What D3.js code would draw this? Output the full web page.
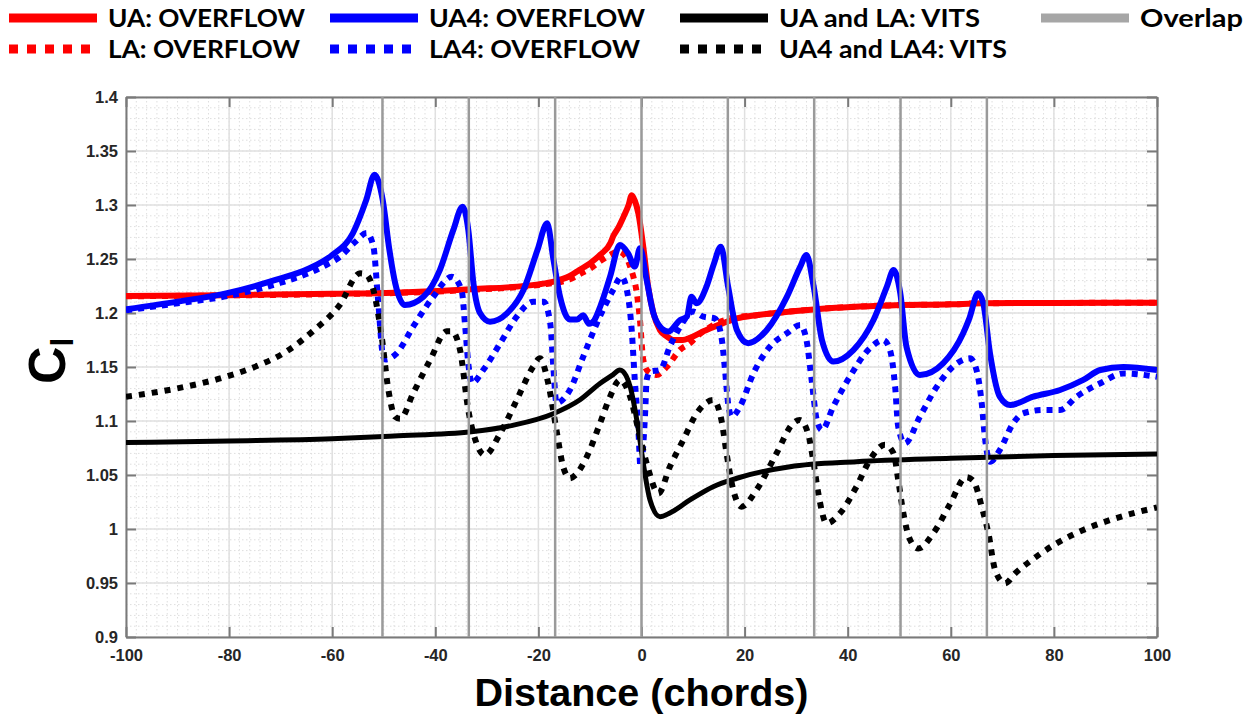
<!DOCTYPE html>
<html><head><meta charset="utf-8">
<script src="https://cdn.jsdelivr.net/npm/d3@7"></script>
<style>body{margin:0;background:#fff}svg{display:block}</style>
</head><body><svg id="c" width="1253" height="717"></svg>
<script>
// ---- data ----
const xTicks = [-100,-80,-60,-40,-20,0,20,40,60,80,100];
const xTickLabels = ["-100","-80","-60","-40","-20","0","20","40","60","80","100"];
const yTicks = [0.9,0.95,1,1.05,1.1,1.15,1.2,1.25,1.3,1.35,1.4];
const yTickLabels = ["0.9","0.95","1","1.05","1.1","1.15","1.2","1.25","1.3","1.35","1.4"];
const overlapX = [-50.25,-33.5,-16.75,0,16.75,33.5,50.25,67];

const uaX = [-100,-80,-60,-48,-33,-20,-17,-14,-12,-10,-8,-6,-5.5,-4.5,-3.5,-2.5,-1.9,-1.3,-0.6,0.35,1.3,2.3,3.6,5,6.2,8,9.4,12,14,18.5,22.3,28,35,48,60,66,80,100];
const uaY = [1.2157,1.2165,1.2178,1.2188,1.222,1.2265,1.229,1.234,1.240,1.246,1.254,1.265,1.271,1.279,1.289,1.300,1.309,1.304,1.292,1.261,1.224,1.200,1.184,1.178,1.175,1.175,1.177,1.183,1.187,1.195,1.198,1.201,1.204,1.207,1.208,1.209,1.2093,1.2095];

const laX = [-100,-80,-60,-48,-33,-20,-14,-12,-10,-8,-6,-4.5,-3,-2,-1.6,-0.9,-0.3,0.35,1.3,2.9,4.9,7.5,9.4,10.7,13.3,17.2,22.3,28,35,48,60,66,80,100];
const laY = [1.2155,1.2163,1.2175,1.2185,1.2215,1.226,1.231,1.236,1.241,1.248,1.254,1.257,1.252,1.240,1.234,1.218,1.1935,1.1565,1.1457,1.1426,1.150,1.166,1.172,1.178,1.187,1.195,1.198,1.201,1.204,1.207,1.208,1.209,1.2093,1.2095];

const ua4X = [-100,-90,-80.6,-71,-64.4,-60,-56,-53.4,-51.8,-50.2,-48.9,-47.8,-45.9,-42.3,-39.1,-36.5,-34.7,-33.6,-32.6,-31.3,-29.4,-26.1,-22.9,-20.2,-18.3,-17.1,-15.8,-13.9,-12.5,-11.3,-10.2,-9.2,-8,-6.1,-4.2,-2.6,-1.3,-0.3,1.0,2.3,3.6,5.2,7.5,8.8,9.7,10.7,12.6,14,15.4,16.8,18.5,20.7,24.3,28.2,30.8,32.0,33.4,35,37.2,41.1,45,47.6,48.9,50.2,51.4,54,58.5,62.4,63.6,65.3,66.3,67.6,69.5,71.5,76,81.2,85.7,89,93.5,100];
const ua4Y = [1.2034,1.2105,1.2182,1.2306,1.2414,1.2537,1.2738,1.3046,1.328,1.3046,1.2583,1.228,1.2074,1.215,1.24,1.277,1.2984,1.277,1.2275,1.1997,1.192,1.1997,1.2213,1.258,1.283,1.250,1.215,1.194,1.194,1.198,1.190,1.193,1.206,1.2336,1.263,1.2553,1.243,1.26,1.2306,1.200,1.1873,1.1828,1.1935,1.1966,1.215,1.209,1.2244,1.245,1.2614,1.2244,1.1843,1.172,1.1843,1.215,1.2429,1.2537,1.2244,1.175,1.155,1.1657,1.1935,1.2244,1.2398,1.2182,1.1688,1.1426,1.1534,1.1812,1.195,1.2182,1.209,1.1627,1.1225,1.1148,1.1225,1.1287,1.138,1.1472,1.150,1.1472];

const la4X = [-100,-90,-80,-70,-64,-61.2,-58.5,-55.5,-53.3,-52,-51.1,-50.1,-49.6,-47.5,-44.3,-40.4,-36.8,-34.9,-34.2,-33.6,-32.9,-30.7,-27.4,-24.2,-21,-19,-17.7,-17.1,-16.5,-13.9,-11.3,-8.7,-5.5,-3.9,-2.6,-1.9,-1.3,-0.6,-0.2,0.7,1.0,1.65,3.6,5.5,7.5,10,12,14.2,15.5,16.2,16.8,17.5,19.1,21.7,24.9,28.2,30.8,32,33,34,35,37.2,40.4,44.3,46.9,48.2,49.2,49.8,51.1,54,57.3,61.2,63.7,65,66,66.6,67.6,69.5,72.1,74,77.9,81.2,84.4,89,93.5,100];
const la4Y = [1.2025,1.209,1.216,1.228,1.238,1.2444,1.252,1.266,1.274,1.2614,1.212,1.1596,1.157,1.1627,1.1873,1.215,1.2336,1.2213,1.1873,1.1534,1.135,1.1472,1.172,1.1966,1.2105,1.2105,1.1904,1.150,1.1167,1.1287,1.1596,1.19,1.2213,1.2336,1.215,1.1843,1.138,1.0917,1.0577,1.107,1.138,1.1457,1.1472,1.169,1.1873,1.2013,1.1966,1.195,1.178,1.1472,1.1164,1.104,1.1133,1.144,1.1688,1.1812,1.1889,1.175,1.138,1.101,1.0917,1.1133,1.141,1.1673,1.175,1.1657,1.1318,1.0947,1.0793,1.104,1.1318,1.1534,1.158,1.147,1.1164,1.0855,1.0623,1.0731,1.0978,1.107,1.1102,1.1102,1.1225,1.135,1.144,1.141];

const vitsX = [-100,-80,-60,-48,-33,-25,-17,-12,-8,-5.5,-4.2,-3,-2.2,-0.6,0.35,1.65,3.6,5.5,9.4,13.9,18.5,28.8,41.7,60,80,100];
const vitsY = [1.080,1.0815,1.0835,1.0861,1.090,1.096,1.107,1.1194,1.135,1.143,1.1472,1.142,1.1318,1.0917,1.0608,1.0269,1.0114,1.0148,1.0269,1.0392,1.047,1.0577,1.0623,1.0654,1.068,1.0694];

const vits4X = [-100,-90.3,-80.6,-74.1,-69,-63.8,-58.6,-54.6,-53.5,-52,-50.4,-49.1,-47.8,-46.8,-44.3,-41,-37.8,-36.8,-35.2,-33.6,-32,-30.4,-27.4,-24.2,-21,-19.7,-18.1,-16.5,-15.2,-13.9,-12.8,-10.6,-8.05,-6.1,-4.2,-2.2,-0.6,1.0,3.3,5.5,8.1,10.7,13.9,15.5,16.5,17.8,19.4,22.3,26.2,29.4,30.7,32.3,33.3,34.3,35.9,38.5,41.7,44.3,47.2,48.9,49.8,50.8,52.1,53.7,56.6,59.8,63,64.3,66.2,67.3,68.6,70.5,72.5,76.6,80.5,85.7,90.9,100];
const vits4Y = [1.1225,1.130,1.141,1.1519,1.164,1.183,1.207,1.2367,1.236,1.2213,1.178,1.1287,1.104,1.102,1.1256,1.1565,1.183,1.183,1.1657,1.1102,1.0793,1.0685,1.0886,1.1194,1.1503,1.158,1.135,1.0917,1.0577,1.047,1.050,1.067,1.0978,1.1225,1.138,1.1225,1.0917,1.0608,1.033,1.0577,1.0824,1.107,1.1194,1.101,1.0701,1.0361,1.0207,1.0361,1.0701,1.0978,1.101,1.0886,1.0639,1.033,1.0053,1.0145,1.0392,1.0639,1.078,1.0701,1.0454,1.0145,0.990,0.982,0.996,1.0226,1.048,1.045,1.017,0.996,0.962,0.9497,0.959,0.9744,0.9867,0.9991,1.0083,1.020];

const legendLabels = ["UA: OVERFLOW","LA: OVERFLOW","UA4: OVERFLOW","LA4: OVERFLOW","UA and LA: VITS","UA4 and LA4: VITS","Overlap"];

// ---- drawing ----
const svg = d3.select("#c");
const L=126,R=1157,T=97,B=637;
const x = d3.scaleLinear().domain([-100,100]).range([L,R]);
const y = d3.scaleLinear().domain([0.9,1.4]).range([B,T]);

const g = svg.append("g");
const minorX = d3.range(-100,100.1,2), minorY = d3.range(0.9,1.4001,0.01);
g.selectAll(".mx").data(minorX).enter().append("line")
  .attr("x1",d=>x(d)).attr("x2",d=>x(d)).attr("y1",T).attr("y2",B)
  .attr("stroke","#dedede").attr("stroke-width",1).attr("stroke-dasharray","1.5,2.5");
g.selectAll(".my").data(minorY).enter().append("line")
  .attr("y1",d=>y(d)).attr("y2",d=>y(d)).attr("x1",L).attr("x2",R)
  .attr("stroke","#dedede").attr("stroke-width",1).attr("stroke-dasharray","1.5,2.5");
g.selectAll(".gx").data(xTicks).enter().append("line")
  .attr("x1",d=>x(d)).attr("x2",d=>x(d)).attr("y1",T).attr("y2",B)
  .attr("stroke","#e0e0e0").attr("stroke-width",1.5);
g.selectAll(".gy").data(yTicks).enter().append("line")
  .attr("y1",d=>y(d)).attr("y2",d=>y(d)).attr("x1",L).attr("x2",R)
  .attr("stroke","#e0e0e0").attr("stroke-width",1.5);

const axB = d3.axisBottom(x).tickValues(xTicks).tickSizeInner(-10).tickSizeOuter(0).tickPadding(12).tickFormat((d,i)=>xTickLabels[i]);
const axT = d3.axisTop(x).tickValues(xTicks).tickSizeInner(-10).tickSizeOuter(0).tickFormat("");
const axL = d3.axisLeft(y).tickValues(yTicks).tickSizeInner(-10).tickSizeOuter(0).tickPadding(8).tickFormat((d,i)=>yTickLabels[i]);
const axR = d3.axisRight(y).tickValues(yTicks).tickSizeInner(-10).tickSizeOuter(0).tickFormat("");
function style(sel){
  sel.selectAll("path").attr("stroke","#7a7a7a").attr("stroke-width",2);
  sel.selectAll("line").attr("stroke","#7a7a7a").attr("stroke-width",2);
  sel.selectAll("text").attr("font-family","Liberation Sans, Arial, sans-serif").attr("font-weight","bold").attr("font-size",16.5).attr("fill","#262626");
}
svg.append("g").attr("transform",`translate(0,${B})`).call(axB).call(style);
svg.append("g").attr("transform",`translate(0,${T})`).call(axT).call(style);
svg.append("g").attr("transform",`translate(${L},0)`).call(axL).call(style);
svg.append("g").attr("transform",`translate(${R},0)`).call(axR).call(style);

const line = d3.line().x(d=>x(d[0])).y(d=>y(d[1])).curve(d3.curveMonotoneX);
const zip = (a,b)=>a.map((v,i)=>[v,b[i]]);
const series = [
  {xs:uaX, ys:uaY, c:"#ff0000", w:6, dash:null},
  {xs:laX, ys:laY, c:"#ff0000", w:6, dash:"6,6"},
  {xs:ua4X, ys:ua4Y, c:"#0000ff", w:6, dash:null},
  {xs:la4X, ys:la4Y, c:"#0000ff", w:6, dash:"6,6"},
  {xs:vitsX, ys:vitsY, c:"#000000", w:5, dash:null},
  {xs:vits4X, ys:vits4Y, c:"#000000", w:6, dash:"6,7"}
];
svg.append("clipPath").attr("id","clp").append("rect").attr("x",L).attr("y",T).attr("width",R-L).attr("height",B-T);
const pg = svg.append("g").attr("clip-path","url(#clp)");
series.forEach(s=>{
  pg.append("path").datum(zip(s.xs,s.ys)).attr("d",line)
    .attr("fill","none").attr("stroke",s.c).attr("stroke-width",s.w)
    .attr("stroke-dasharray",s.dash).attr("stroke-linejoin","round");
});
pg.selectAll(".ov").data(overlapX).enter().append("line")
  .attr("x1",d=>x(d)).attr("x2",d=>x(d)).attr("y1",T).attr("y2",B)
  .attr("stroke","#9a9a9a").attr("stroke-width",2.5);

// axis titles
svg.append("text").attr("x",(L+R)/2).attr("y",706).attr("text-anchor","middle")
  .attr("font-family","Liberation Sans, Arial, sans-serif").attr("font-weight","bold").attr("font-size",39).attr("fill","#000")
  .attr("textLength",334).attr("lengthAdjust","spacingAndGlyphs")
  .text("Distance (chords)");
const yl = svg.append("text").attr("transform","translate(65,384) rotate(-90)")
  .attr("font-family","Liberation Sans, Arial, sans-serif").attr("font-weight","bold").attr("font-size",52).attr("fill","#000");
yl.append("tspan").text("C");
yl.append("tspan").attr("font-size",32).attr("dy",8).text("l");

// legend
const leg = [
  {lx:9, ly:18, c:"#ff0000", dash:null, w:197},
  {lx:9, ly:49, c:"#ff0000", dash:"9,9", w:192},
  {lx:330, ly:18, c:"#0000ff", dash:null, w:216},
  {lx:330, ly:49, c:"#0000ff", dash:"9,9", w:211},
  {lx:680, ly:18, c:"#000000", dash:null, w:201},
  {lx:680, ly:49, c:"#000000", dash:"9,9", w:228},
  {lx:1041, ly:18, c:"#a6a6a6", dash:null, w:103}
];
const lg = svg.append("g");
leg.forEach((d,i)=>{
  lg.append("line").attr("x1",d.lx).attr("x2",d.lx+88).attr("y1",d.ly).attr("y2",d.ly)
    .attr("stroke",d.c).attr("stroke-width",9).attr("stroke-dasharray",d.dash);
  lg.append("text").attr("x",d.lx+99).attr("y",d.ly+9)
    .attr("font-family","Lato, 'Open Sans', sans-serif").attr("font-weight","bold").attr("font-size",25).attr("fill","#000")
    .attr("textLength",d.w).attr("lengthAdjust","spacingAndGlyphs")
    .text(legendLabels[i]);
});
</script></body></html>
